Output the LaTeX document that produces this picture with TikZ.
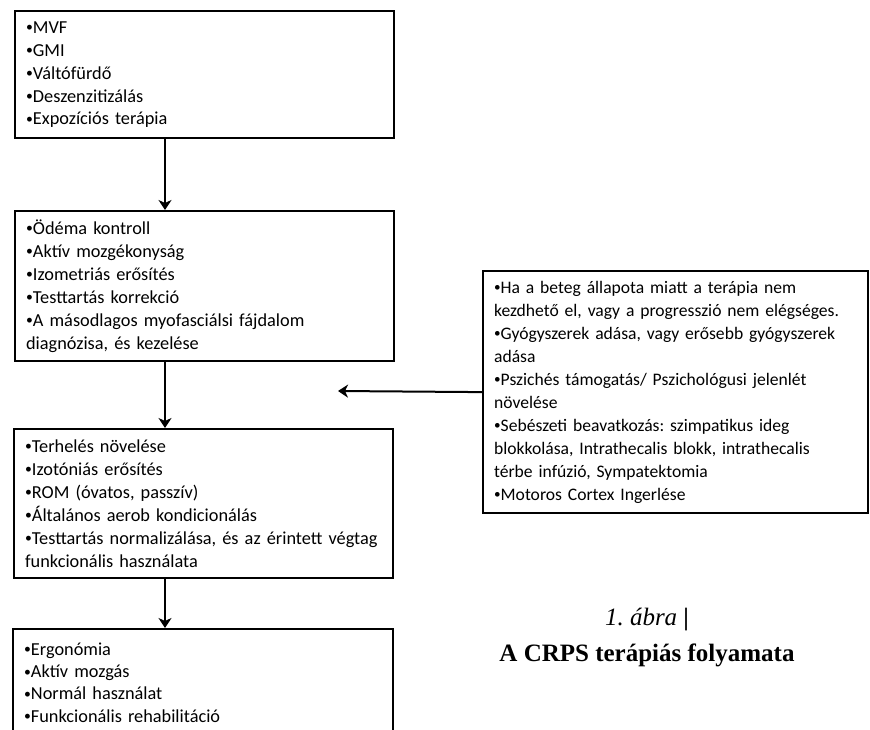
\documentclass[tikz,border=0pt]{standalone}
\usepackage{fontspec}
\setmainfont{Carlito}
\newfontfamily\capfont{Liberation Serif}
\frenchspacing
\usetikzlibrary{arrows.meta}
\usetikzlibrary{positioning}

\newcommand\blt{\raisebox{0.08em}{\scalebox{0.75}{•}}}

\tikzset{
    stepbox/.style={draw, line width=2.2pt, align=left, anchor=north west,
        inner xsep=10pt, inner ysep=6pt, font=\fontsize{18.3}{23}\selectfont},
    flow/.style={line width=2pt, -{Stealth[length=10pt, width=13pt, inset=3pt]}}
}

\begin{document}
\begin{tikzpicture}
        [x=1pt, y=-1pt]
        \useasboundingbox (0,0) rectangle (870,729);
        \node [stepbox, minimum width=379pt, minimum height=127pt, text width=357pt] (mvf) at (14,10)
            {\blt MVF\\\blt GMI\\\blt Váltófürdő\\\blt Deszenzitizálás\\\blt Expozíciós terápia};
        \node [stepbox, minimum width=379pt, minimum height=150pt, text width=357pt] (odema) at (14,210)
            {\blt Ödéma kontroll\\\blt Aktív mozgékonyság\\\blt Izometriás erősítés\\\blt Testtartás korrekció\\\blt A másodlagos myofasciálsi fájdalom\\diagnózisa, és kezelése};
        \node [stepbox, minimum width=379pt, minimum height=149pt, text width=357pt] (terheles) at (13,428)
            {\blt Terhelés növelése\\\blt Izotóniás erősítés\\\blt ROM (óvatos, passzív)\\\blt Általános aerob kondicionálás\\\blt Testtartás normalizálása, és az érintett végtag\\funkcionális használata};
        % lower edge lies below the page
        \node [stepbox, font=\fontsize{18.3}{22.3}\selectfont, minimum width=380pt, minimum height=107pt, text width=358pt] (ergo) at (12,628)
            {\blt Ergonómia\\\blt Aktív mozgás\\\blt Normál használat\\\blt Funkcionális rehabilitáció};
        \node [stepbox, font=\fontsize{17.6}{23}\selectfont, minimum width=385pt, minimum height=242pt, text width=363pt] (beteg) at (482,270)
            {\blt Ha a beteg állapota miatt a terápia nem\\kezdhető el, vagy a progresszió nem elégséges.\\\blt Gyógyszerek adása, vagy erősebb gyógyszerek\\adása\\\blt Pszichés támogatás/ Pszichológusi jelenlét\\növelése\\\blt Sebészeti beavatkozás: szimpatikus ideg\\blokkolása, Intrathecalis blokk, intrathecalis\\térbe infúzió, Sympatektomia\\\blt Motoros Cortex Ingerlése};
        \node [font=\capfont\fontsize{25}{28}\selectfont] (abra) at (647,620) {\textit{1. ábra} \textbf{|}};
        \node [font=\capfont\bfseries\fontsize{25}{28}\selectfont] (cim) at (647,655) {A CRPS terápiás folyamata};
        
        \coordinate (axis) at (165,0);
        \coordinate (tip) at (338,391);
        
        \draw [flow] (mvf.south -| axis) -- (odema.north -| axis);
        \draw [flow] (odema.south -| axis) -- (terheles.north -| axis);
        \draw [flow] (terheles.south -| axis) -- (ergo.north -| axis);
        \draw [flow] (beteg.west) -- (tip);
    \end{tikzpicture}
\end{document}
